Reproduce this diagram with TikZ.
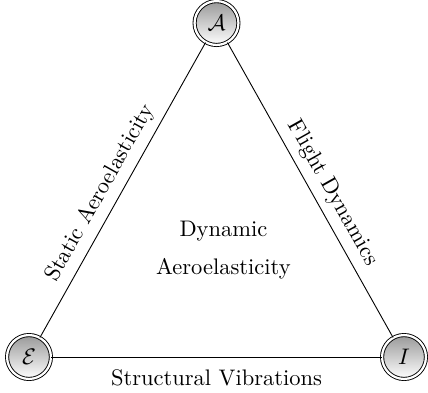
\documentclass[tikz,border=0pt]{standalone}
\usepackage{amsmath}
\usepackage{tikz}

\begin{document}
\begin{tikzpicture}[
    vertex/.style={circle, draw, double, double distance=1pt, minimum size=19.5pt, inner sep=0pt,
                   top color=gray!80, bottom color=white},
    side/.style={thin}
]
\useasboundingbox (0,0) rectangle (6.686,6.124);

% Vertices
\node[vertex] (A) at (3.382, 5.764) {$\mathcal{A}$};
\node[vertex] (E) at (0.453, 0.547) {$\mathcal{E}$};
\node[vertex] (I) at (6.311, 0.547) {$I$};

% Sides
\draw[side] (E) -- node[pos=0.46, above, sloped] (static) {Static Aeroelasticity} (A);
\draw[side] (A) -- node[pos=0.54, above, sloped] (flight) {Flight Dynamics} (I);
\draw[side] (E) -- node[below, yshift=-2pt] (struct) {Structural Vibrations} (I);

% Centre
\node[align=center] (dyn) at (3.49, 2.22) {Dynamic\\[5pt] Aeroelasticity};
\end{tikzpicture}
\end{document}
